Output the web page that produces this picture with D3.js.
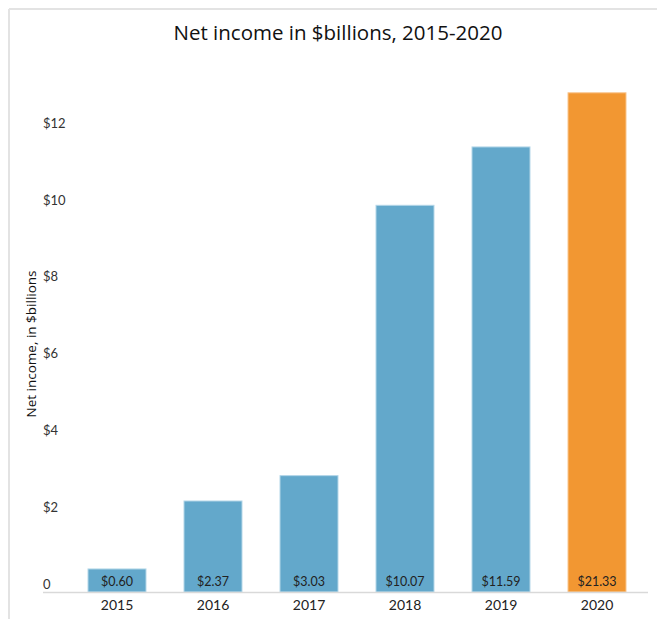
<!DOCTYPE html>
<html>
<head>
<meta charset="utf-8">
<script src="https://cdn.jsdelivr.net/npm/d3@7/dist/d3.min.js"></script>
<style>
  html, body { margin: 0; padding: 0; background: #fff; }
  svg { display: block; }
  .tick-label { font-family: Lato, "Open Sans", sans-serif; font-size: 13px; fill: #333; }
  .year { font-family: Lato, "Open Sans", sans-serif; font-size: 14px; fill: #222; }
  .val { font-family: Lato, "Open Sans", sans-serif; font-size: 12.5px; fill: #222; }
</style>
</head>
<body>
<svg width="657" height="619"></svg>
<script>
const years = ["2015", "2016", "2017", "2018", "2019", "2020"];
const netIncome = [0.60, 2.37, 3.03, 10.07, 11.59, 21.33];
const valueLabels = ["$0.60", "$2.37", "$3.03", "$10.07", "$11.59", "$21.33"];
const barColors = ["#63a8cb", "#63a8cb", "#63a8cb", "#63a8cb", "#63a8cb", "#f29732"];
const yTicks = [0, 2, 4, 6, 8, 10, 12];

const svg = d3.select("svg");

// frame (only top and left edges visible)
svg.append("line").attr("x1", 9).attr("x2", 657).attr("y1", 9).attr("y2", 9)
  .attr("stroke", "#e3e3e3").attr("stroke-width", 2);
svg.append("line").attr("x1", 9).attr("x2", 9).attr("y1", 9).attr("y2", 619)
  .attr("stroke", "#e3e3e3").attr("stroke-width", 2);

const x = d3.scaleBand().domain(years).range([69, 645]).paddingInner(0.396).paddingOuter(0.198);
// the tallest bar is cut off at the top of the plot
const y = d3.scaleLinear().domain([0, 13]).range([592, 92.8]).clamp(true);

svg.append("text")
  .attr("x", 338).attr("y", 40)
  .attr("text-anchor", "middle")
  .style("font-family", "'Open Sans', sans-serif")
  .style("font-size", "20.5px")
  .style("fill", "#111")
  .text("Net income in $billions, 2015-2020");

// y tick labels, sitting a little above their values like the original
svg.append("g").selectAll("text").data(yTicks).enter().append("text")
  .attr("class", "tick-label")
  .attr("x", 43).attr("y", d => y(d) - 8)
  .attr("dy", "0.35em")
  .text(d => d === 0 ? "0" : "$" + d);

svg.append("text")
  .attr("transform", "translate(36,344) rotate(-90)")
  .attr("text-anchor", "middle")
  .style("font-family", "'Open Sans', sans-serif")
  .style("font-size", "13.5px")
  .style("fill", "#111")
  .text("Net income, in $billions");

svg.append("g").selectAll("rect").data(years).enter().append("rect")
  .attr("x", d => x(d))
  .attr("y", (d, i) => y(netIncome[i]))
  .attr("width", x.bandwidth())
  .attr("height", (d, i) => y(0) - y(netIncome[i]))
  .attr("fill", (d, i) => barColors[i])
  .attr("stroke", (d, i) => i === 5 ? "#f8c48c" : "#b3d6e8")
  .attr("stroke-width", 1);

svg.append("line")
  .attr("x1", 43).attr("x2", 648)
  .attr("y1", y(0) + 0.5).attr("y2", y(0) + 0.5)
  .attr("stroke", "#d9d9d9").attr("stroke-width", 1.5);

svg.append("g").selectAll("text").data(years).enter().append("text")
  .attr("class", "val")
  .attr("x", d => x(d) + x.bandwidth() / 2)
  .attr("y", y(0) - 10)
  .attr("dy", "0.35em")
  .attr("text-anchor", "middle")
  .text((d, i) => valueLabels[i]);

const xAxis = svg.append("g").attr("transform", "translate(0," + y(0) + ")")
  .call(d3.axisBottom(x).tickSize(0).tickPadding(8));
xAxis.select(".domain").remove();
xAxis.selectAll("text").attr("class", "year").attr("fill", null);
</script>
</body>
</html>
